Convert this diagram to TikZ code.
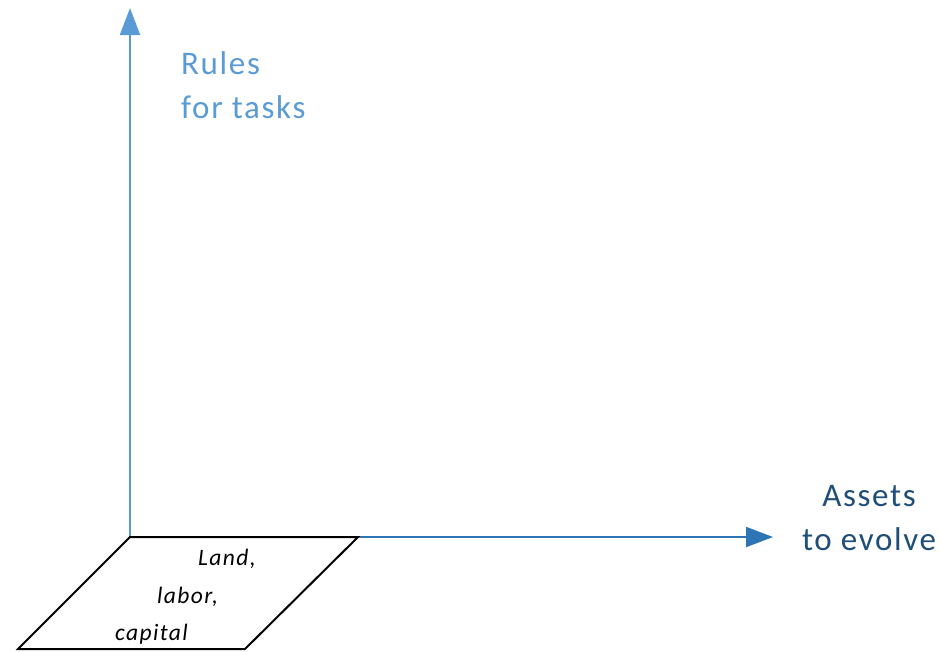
\documentclass[tikz,border=0pt]{standalone}
\usepackage{fontspec}
\setmainfont{Carlito}
\usetikzlibrary{arrows.meta}
\definecolor{lightblue}{HTML}{5B9BD5}
\definecolor{midblue}{HTML}{2E75B6}
\definecolor{darkblue}{HTML}{1F4E79}
\tikzset{
  axis/.style={line width=2pt},
  bigtip/.style={-{Triangle[length=27pt,width=20pt]}},
  axlabel/.style={font=\fontsize{33}{44}\selectfont\addfontfeatures{LetterSpace=5}, inner sep=0pt},
  planelabel/.style={font=\fontsize{23.5}{28}\selectfont\itshape\addfontfeatures{LetterSpace=6}, inner sep=0pt, anchor=base west}
}
\begin{document}
\begin{tikzpicture}[x=1pt,y=-1pt]
\useasboundingbox (0,0) rectangle (941,651);
\coordinate (O) at (130,537);
\coordinate (ytip) at (130,8);
\coordinate (xtip) at (773,537);
\coordinate (pTR) at (358,537);
\coordinate (pBR) at (245,649);
\coordinate (pBL) at (18,649);
\draw[axis, lightblue, bigtip] (O) -- (ytip);
\draw[axis, midblue, bigtip] (O) -- (xtip);
\draw[line width=2pt, black, line join=miter] (O) -- (pTR) -- (pBR) -- (pBL) -- cycle;
\node[axlabel, lightblue, align=left, anchor=north west] (rules) at (181,51) {Rules\\for tasks};
\node[axlabel, darkblue, align=center, anchor=north] (assets) at (869,485) {Assets\\to evolve};
\node[planelabel] (land) at (198,565) {Land,};
\node[planelabel] (labor) at (157,603) {labor,};
\node[planelabel] (capital) at (115,640) {capital};
\end{tikzpicture}
\end{document}
